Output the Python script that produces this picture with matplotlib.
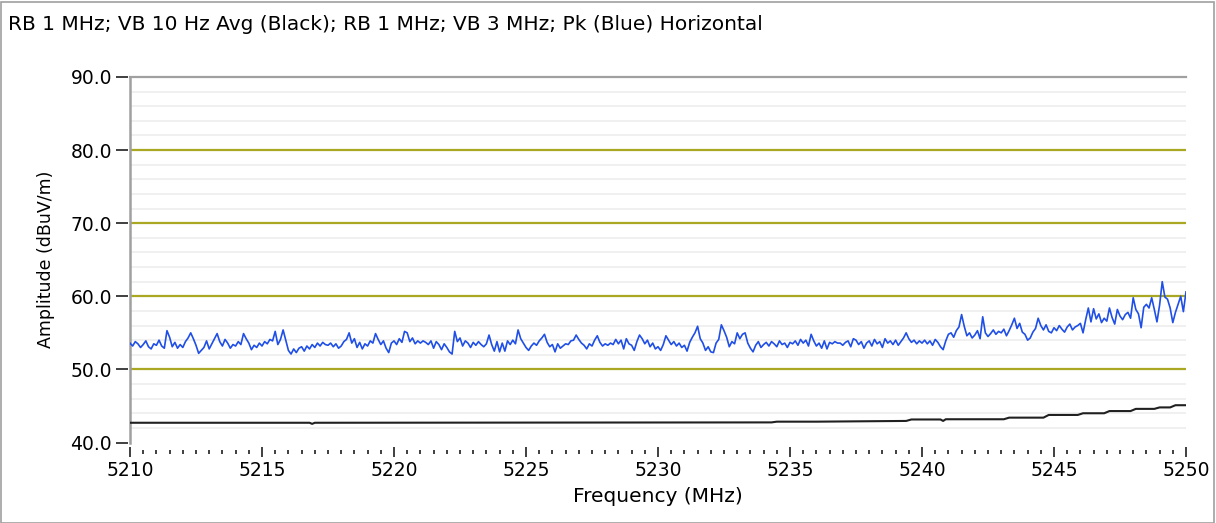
import numpy as np
import matplotlib
matplotlib.use("Agg")
import matplotlib.pyplot as plt
from matplotlib.ticker import MultipleLocator, FormatStrFormatter
from matplotlib.patches import Rectangle

title = "RB 1 MHz; VB 10 Hz Avg (Black); RB 1 MHz; VB 3 MHz; Pk (Blue) Horizontal"
xlabel = "Frequency (MHz)"
ylabel = "Amplitude (dBuV/m)"

f_start, f_stop, f_step = 5210.0, 5250.0, 0.1

# Peak trace (blue), one row per 2 MHz, 0.1 MHz steps
peak_vals = [
    53.6, 53.2, 53.8, 53.5, 53.0, 53.4, 53.9, 53.1, 52.8, 53.5, 53.3, 54.0, 53.2, 52.9, 55.3, 54.4, 53.1, 53.7, 52.9, 53.4,
    53.0, 53.8, 54.3, 55.0, 54.2, 53.3, 52.2, 52.6, 53.0, 53.9, 52.8, 53.5, 54.2, 54.9, 53.8, 53.2, 54.1, 53.6, 52.9, 53.4,
    53.2, 53.8, 53.4, 54.9, 54.2, 53.6, 52.7, 53.3, 53.0, 53.6, 53.2, 53.8, 53.5, 54.1, 53.9, 55.2, 53.4, 54.1, 55.4, 54.0,
    52.6, 52.1, 52.8, 52.3, 52.9, 53.1, 52.5, 53.2, 52.8, 53.4, 53.0, 53.6, 53.2, 53.7, 53.4, 53.3, 53.6, 53.1, 53.5, 52.9,
    53.2, 53.8, 54.1, 55.0, 53.6, 54.2, 53.0, 53.7, 52.8, 53.5, 53.2, 53.9, 53.6, 54.9, 54.1, 53.4, 53.9, 52.9, 52.3, 53.6,
    53.9, 53.4, 54.2, 53.7, 55.2, 55.0, 53.8, 54.3, 53.5, 53.9, 53.6, 53.9, 53.7, 53.4, 53.9, 52.9, 53.8, 53.4, 52.7, 53.5,
    53.0, 52.4, 52.1, 55.2, 53.8, 54.3, 53.2, 53.9, 53.6, 53.0, 53.7, 53.3, 53.8, 53.4, 53.1, 53.5, 54.7, 53.4, 52.5, 53.8,
    52.4, 53.6, 52.5, 53.9, 53.4, 54.0, 53.5, 55.4, 54.2, 53.6, 53.0, 52.6, 53.2, 53.6, 53.3, 53.9, 54.3, 54.8, 53.7, 53.1,
    53.4, 52.4, 53.5, 52.9, 53.2, 53.5, 53.4, 53.9, 54.0, 54.7, 54.1, 53.6, 53.3, 52.8, 53.5, 53.2, 54.0, 54.6, 53.7, 53.2,
    53.5, 53.3, 53.6, 53.4, 54.1, 53.5, 54.0, 52.8, 54.2, 53.5, 53.3, 52.6, 53.8, 54.7, 54.2, 53.5, 54.0, 53.1, 53.6, 52.8,
    53.1, 52.6, 53.4, 54.6, 54.0, 53.4, 53.8, 53.2, 53.6, 53.0, 53.3, 52.5, 53.7, 54.4, 55.0, 55.9, 54.2, 53.6, 52.6, 53.1,
    52.4, 52.3, 53.6, 54.1, 56.1, 55.3, 54.4, 53.1, 53.8, 53.5, 55.0, 54.2, 54.8, 55.0, 53.6, 52.9, 52.4, 53.3, 53.8, 53.0,
    53.4, 53.7, 53.2, 53.8, 53.5, 53.1, 53.9, 53.4, 53.6, 53.0, 53.7, 53.5, 53.9, 53.3, 54.1, 53.6, 54.0, 53.2, 54.8, 53.9,
    53.2, 53.6, 52.9, 53.9, 52.8, 53.7, 53.5, 53.8, 53.6, 53.6, 53.3, 53.7, 53.9, 53.1, 54.2, 54.0, 53.4, 53.8, 52.9, 53.6,
    53.9, 53.2, 54.1, 53.5, 53.8, 53.0, 54.2, 53.6, 53.9, 53.4, 54.0, 53.3, 53.8, 54.3, 55.0, 54.2, 53.7, 54.0, 53.5, 53.9,
    53.6, 54.0, 53.5, 53.9, 53.3, 54.1, 53.7, 53.1, 52.7, 53.9, 54.8, 55.0, 54.4, 55.3, 55.8, 57.5, 55.9, 54.6, 55.0, 54.3,
    54.7, 55.3, 54.2, 57.2, 55.0, 54.5, 54.9, 55.4, 54.8, 55.2, 55.0, 55.5, 54.6, 55.3, 56.1, 57.0, 55.6, 56.3, 55.1, 54.8,
    54.0, 54.3, 55.1, 55.6, 57.0, 56.0, 55.4, 56.1, 55.2, 55.0, 55.7, 55.3, 56.0, 55.5, 55.1, 55.8, 56.2, 55.4, 55.8, 56.0,
    56.3, 55.0, 56.8, 58.4, 56.5, 58.3, 56.9, 57.6, 56.4, 57.0, 56.6, 58.4, 57.1, 56.2, 58.2, 57.3, 56.8, 57.5, 57.8, 57.0,
    59.8, 58.2, 57.6, 55.7, 58.5, 58.9, 58.4, 59.8, 58.2, 56.5, 58.8, 62.0, 59.9, 59.6, 58.4, 56.4, 57.8, 58.9, 60.0, 57.9,
    60.6,
]

# Average trace (black)
avg_freq = [5210.0, 5216.8, 5216.9, 5217.0, 5234.3, 5234.5, 5236.0, 5239.4, 5239.6, 5240.7, 5240.8, 5240.9,
            5243.1, 5243.3, 5244.6, 5244.8, 5245.9, 5246.1, 5246.9, 5247.1, 5247.9, 5248.1, 5248.8, 5249.0,
            5249.4, 5249.6, 5250.0]
avg_vals = [42.70, 42.70, 42.55, 42.70, 42.75, 42.85, 42.85, 42.95, 43.15, 43.15, 42.95, 43.18,
            43.18, 43.40, 43.40, 43.77, 43.77, 44.00, 44.00, 44.30, 44.30, 44.60, 44.60, 44.80,
            44.80, 45.10, 45.10]

peak_freq = f_start + f_step * np.arange(len(peak_vals))

W, H = 1216, 523
fig = plt.figure(figsize=(W / 100, H / 100), dpi=100)
fig.patch.set_facecolor("white")
fig.patches.append(Rectangle((0.5 / W, 0.5 / H), 1 - 2.5 / W, 1 - 2.5 / H, transform=fig.transFigure,
                             fill=False, edgecolor="#a0a0a0", linewidth=1.2))

ax = fig.add_axes([130 / W, 1 - 442.5 / H, (1186 - 130) / W, (442.5 - 77) / H])
ax.set_xlim(f_start, f_stop)
ax.set_ylim(40, 90)

# grid
for v in np.arange(42, 90, 2):
    if v % 10 == 0:
        continue
    ax.axhline(v, color="#ededed", lw=1.2, zorder=0)
for v in [50, 60, 70, 80]:
    ax.axhline(v, color="#aaa822", lw=1.6, zorder=1)
ax.axhline(90, color="#a0a0a0", lw=1.6, zorder=1, clip_on=False)
ax.axvline(f_start, color="#a0a0a0", lw=1.8, zorder=1, clip_on=False)

ax.plot(avg_freq, avg_vals, color="#202020", lw=1.5, zorder=3)
ax.plot(peak_freq, peak_vals, color="#1f4fe6", lw=1.2, zorder=4)

for s in ax.spines.values():
    s.set_visible(False)
ax.spines["bottom"].set_position(("outward", 7))
ax.spines["left"].set_position(("outward", 6))

ax.yaxis.set_major_locator(MultipleLocator(10))
ax.yaxis.set_major_formatter(FormatStrFormatter("%.1f"))
ax.xaxis.set_major_locator(MultipleLocator(5))
ax.xaxis.set_minor_locator(MultipleLocator(0.5))
ax.xaxis.set_major_formatter(FormatStrFormatter("%d"))

fs_tick = 13.5
ax.tick_params(axis="y", which="major", direction="inout", length=8, width=1.3, color="#303030",
               labelsize=fs_tick, pad=3)
ax.tick_params(axis="x", which="major", direction="inout", length=6.5, width=1.3, color="#303030",
               labelsize=fs_tick, pad=3)
ax.tick_params(axis="x", which="minor", direction="inout", length=3.2, width=1.3, color="#303030")

ax.set_xlabel(xlabel, fontsize=14.5, labelpad=5)
ax.set_ylabel(ylabel, fontsize=12.5, labelpad=11)
fig.text(8 / W, 1 - 25 / H, title, fontsize=14.5, ha="left", va="center")

fig.savefig("out.png", dpi=100, facecolor="white")
